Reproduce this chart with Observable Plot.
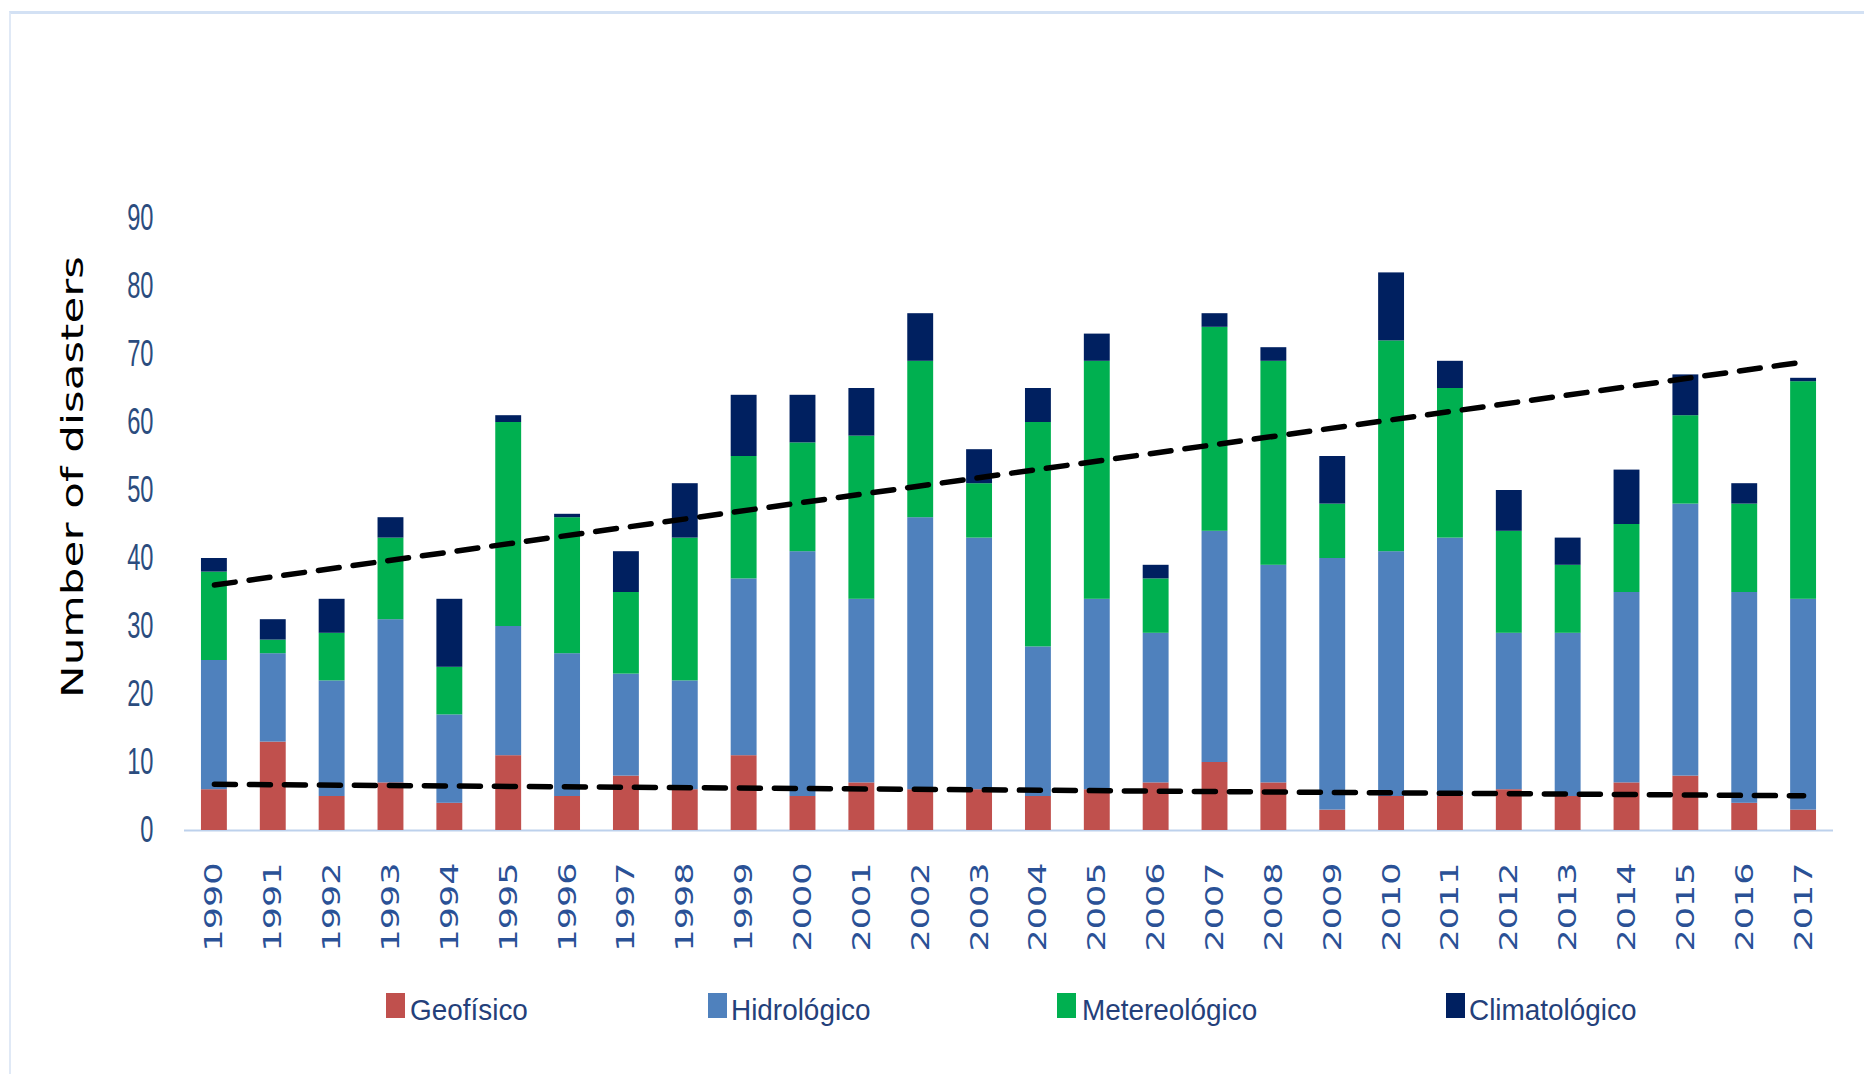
<!DOCTYPE html>
<html>
<head>
<meta charset="utf-8">
<script src="https://cdn.jsdelivr.net/npm/d3@7"></script>
<script src="https://cdn.jsdelivr.net/npm/@observablehq/plot@0.6"></script>
<style>
html, body { margin: 0; padding: 0; background: #fff; }
#page { position: relative; width: 1864px; height: 1074px; overflow: hidden; background: #fff; }
#frame { position: absolute; left: 9px; top: 11px; right: -20px; bottom: -20px;
  border-top: 3px solid #d3e1f4; border-left: 2px solid #e0e9f6; }
#chart { position: absolute; left: 0; top: 0; }
.sw { position: absolute; top: 993px; width: 19px; height: 25px; }
.lt { position: absolute; top: 995px; line-height: 30px; font-family: "Liberation Sans", Arial, sans-serif;
  font-size: 30px; color: #24407a; transform: scaleX(0.93); transform-origin: 0 0; white-space: nowrap; }
</style>
</head>
<body>
<div id="page">
  <div id="frame"></div>
  <div id="chart"></div>
  <div id="legend"></div>
</div>
<script>
// ---- data ----
const years = [1990,1991,1992,1993,1994,1995,1996,1997,1998,1999,2000,2001,2002,2003,2004,2005,2006,2007,2008,2009,2010,2011,2012,2013,2014,2015,2016,2017];
const geofisico     = [ 6,13, 5, 7, 4,11, 5, 8, 6,11, 5, 7, 6, 6, 5, 6, 7,10, 7, 3, 5, 5, 6, 5, 7, 8, 4, 3];
const hidrologico   = [19,13,17,24,13,19,21,15,16,26,36,27,40,37,22,28,22,34,32,37,36,38,23,24,28,40,31,31];
const metereologico = [13, 2, 7,12, 7,30,20,12,21,18,16,24,23, 8,33,35, 8,30,30, 8,31,22,15,10,10,13,13,32];
const climatologico = [ 2, 3, 5, 3,10, 1,0.5,6, 8, 9, 7, 7, 7, 5, 5, 4, 2, 2, 2, 7,10, 4, 6, 4, 8, 6, 3,0.5];
const types  = ["Geofísico", "Hidrológico", "Metereológico", "Climatológico"];
const colors = ["#C0504D", "#4F81BD", "#00B050", "#002060"];
const yTicks = [0,10,20,30,40,50,60,70,80,90];
const trendTotalYears  = [1990, 2017];
const trendTotalValues = [36.1, 68.9];
const trendGeoYears    = [1990, 2017];
const trendGeoValues   = [6.8, 5.1];
const yTitle = "Number of disasters";

// ---- tables ----
const series = [geofisico, hidrologico, metereologico, climatologico];
const table = years.flatMap((yr, i) => types.map((t, k) => ({year: yr, type: t, value: series[k][i]})));
const trendTotal = trendTotalYears.map((y, i) => ({year: y, value: trendTotalValues[i]}));
const trendGeo = trendGeoYears.map((y, i) => ({year: y, value: trendGeoValues[i]}));

const svg = Plot.plot({
  width: 1864,
  height: 960,
  marginLeft: 184,
  marginRight: 31,
  marginTop: 218,
  marginBottom: 130,
  style: {background: "transparent", fontFamily: "DejaVu Sans", overflow: "visible"},
  x: {type: "band", domain: years, padding: 0.56, range: [168, 1849], round: false,
      tickSize: 0, tickPadding: 32, tickRotate: -90, label: null, tickFormat: d => String(d)},
  y: {domain: [0, 90], ticks: yTicks, tickSize: 0, tickPadding: 31, label: null},
  color: {domain: types, range: colors},
  marks: [
    Plot.ruleY([0], {stroke: "#bdd1ec", strokeWidth: 2}),
    Plot.barY(table, {x: "year", y: "value", fill: "type"}),
    Plot.line(trendTotal, {x: "year", y: "value", stroke: "#000", strokeWidth: 5.5, strokeDasharray: "21,14"}),
    Plot.line(trendGeo, {x: "year", y: "value", stroke: "#000", strokeWidth: 5.5, strokeDasharray: "21,14"})
  ]
});
document.getElementById("chart").appendChild(svg);

// ---- styling of axis texts ----
function axisTexts(axis) {
  let nodes = svg.querySelectorAll(`g[aria-label="${axis}-axis tick label"] text`);
  if (!nodes.length) nodes = svg.querySelectorAll(`g[aria-label="${axis}-axis"] text`);
  return [...nodes];
}
function stretch(el, sx) {
  const xAttr = el.getAttribute("x");
  let t = el.getAttribute("transform") || "";
  if (xAttr != null && xAttr !== "" && !isNaN(+xAttr)) {
    t += ` translate(${+xAttr},0)`;
    el.removeAttribute("x");
  }
  el.setAttribute("transform", `${t} scale(${sx},1)`.trim());
}
axisTexts("y").forEach(el => {
  el.style.fontFamily = "'Liberation Sans'";
  el.style.fontSize = "37px";
  el.setAttribute("fill", "#2b4c7e");
  stretch(el, 0.64);
});
axisTexts("x").forEach(el => {
  el.style.fontFamily = "'DejaVu Sans'";
  el.style.fontSize = "25px";
  el.setAttribute("fill", "#2a5196");
  stretch(el, 1.4);
});

// y-axis title
d3.select(svg).append("text")
  .attr("transform", "translate(83,477) rotate(-90)")
  .attr("text-anchor", "middle")
  .attr("font-family", "DejaVu Sans")
  .attr("font-size", 30)
  .attr("fill", "#000")
  .attr("textLength", 442)
  .attr("lengthAdjust", "spacingAndGlyphs")
  .text(yTitle);

// ---- legend (HTML below the chart) ----
const swatchLeft = [386, 708, 1057, 1446];
const textLeft = [410, 731, 1082, 1469];
const legend = d3.select("#legend");
types.forEach((t, i) => {
  legend.append("div").attr("class", "sw").style("left", swatchLeft[i] + "px").style("background", colors[i]);
  legend.append("div").attr("class", "lt").style("left", textLeft[i] + "px").text(t);
});
</script>
</body>
</html>
